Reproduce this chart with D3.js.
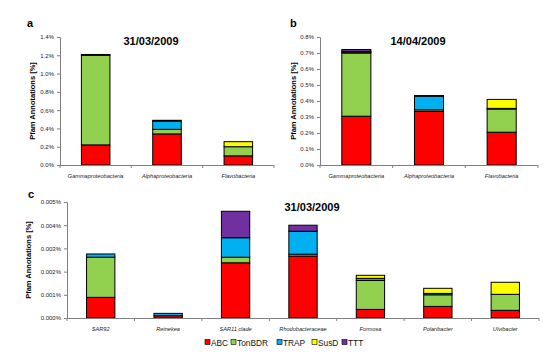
<!DOCTYPE html>
<html><head><meta charset="utf-8">
<script src="https://cdn.jsdelivr.net/npm/d3@7"></script>
<style>body{margin:0;background:#fff}svg{display:block}text{font-family:"Liberation Sans",Arial,sans-serif}</style>
</head><body>
<script>
const series = ["ABC","TonBDR","TRAP","SusD","TTT"];
const seriesColors = ["#ff0000","#92d050","#00b0f0","#ffff00","#7030a0"];

const catsTop = ["Gammaproteobacteria","Alphaproteobacteria","Flavobacteria"];
const aABC = [0.22,0.34,0.10];
const aTonBDR = [0.98,0.05,0.10];
const aTRAP = [0.0,0.09,0.0];
const aSusD = [0.0,0.0,0.055];
const aTTT = [0.009,0.009,0.0];
const aTicks = [0,0.2,0.4,0.6,0.8,1.0,1.2,1.4];

const bABC = [0.305,0.335,0.205];
const bTonBDR = [0.395,0.01,0.145];
const bTRAP = [0.005,0.085,0.004];
const bSusD = [0.005,0.0,0.056];
const bTTT = [0.012,0.004,0.0];
const bTicks = [0,0.1,0.2,0.3,0.4,0.5,0.6,0.7,0.8];

const catsC = ["SAR92","Reinekea","SAR11 clade","Rhodobacteraceae","Formosa","Polaribacter","Ulvibacter"];
const cABC = [0.00089,0.0001,0.00238,0.00267,0.00037,0.0005,0.00033];
const cTonBDR = [0.00173,0.0,0.00024,0.00008,0.00125,0.0005,0.00069];
const cTRAP = [0.00014,0.0001,0.00084,0.00099,0.00009,0.00006,0.0];
const cSusD = [0.0,0.0,0.0,0.0,0.00013,0.00022,0.00052];
const cTTT = [0.0,0.0,0.00114,0.00026,0.0,0.0,0.0];
const cTicks = [0,0.001,0.002,0.003,0.004,0.005];

const svg = d3.select("body").append("svg").attr("width",560).attr("height",355);

function panel(o){
  const g = svg.append("g");
  const x = d3.scaleBand().domain(o.cats).range([o.x0,o.x1]).paddingInner(o.pad).paddingOuter(o.pad/2);
  const y = d3.scaleLinear().domain([0,o.max]).range([o.y0,o.y1]);
  const rows = o.cats.map((c,i)=>{const r={cat:c}; series.forEach((s,k)=>r[s]=o.vals[k][i]); return r;});
  const stack = d3.stack().keys(series)(rows);
  stack.forEach((layer,k)=>{
    g.selectAll(null).data(layer.filter(d=>d[1]-d[0]>0)).enter().append("rect")
      .attr("x",d=>x(d.data.cat)).attr("width",x.bandwidth())
      .attr("y",d=>y(d[1])).attr("height",d=>y(d[0])-y(d[1]))
      .attr("fill",seriesColors[k]).attr("stroke","#000").attr("stroke-width",1);
  });
  const ya = g.append("g").attr("transform",`translate(${o.x0},0)`)
    .call(d3.axisLeft(y).tickValues(o.ticks).tickFormat(d=>d3.format(o.fmt)(d)+"%").tickSize(3).tickPadding(3));
  ya.selectAll("path,line").attr("stroke","#808080");
  ya.selectAll("text").attr("font-size",6).attr("fill","#222");
  g.append("line").attr("x1",o.x0).attr("x2",o.x1).attr("y1",o.y0+0.5).attr("y2",o.y0+0.5).attr("stroke","#808080");
  d3.range(o.cats.length+1).forEach(i=>{
    const xx = o.x0 + (o.x1-o.x0)*i/o.cats.length;
    g.append("line").attr("x1",xx).attr("x2",xx).attr("y1",o.y0).attr("y2",o.y0+3).attr("stroke","#808080");
  });
  g.selectAll(null).data(o.cats).enter().append("text")
    .attr("x",d=>x(d)+x.bandwidth()/2).attr("y",o.y0+13).attr("text-anchor","middle")
    .attr("font-size",5.6).attr("font-style","italic").attr("fill","#222").text(d=>d);
  g.append("text").attr("transform",`translate(${o.tx},${(o.y0+o.y1)/2}) rotate(-90)`)
    .attr("text-anchor","middle").attr("font-size",7.5).attr("font-weight","bold").text("Pfam Annotations [%]");
  g.append("text").attr("x",o.titleX).attr("y",o.titleY).attr("text-anchor","middle")
    .attr("font-size",11).attr("font-weight","bold").text(o.title);
  g.append("text").attr("x",o.lx).attr("y",o.ly).attr("font-size",11).attr("font-weight","bold").text(o.letter);
}

panel({cats:catsTop,vals:[aABC,aTonBDR,aTRAP,aSusD,aTTT],max:1.4,ticks:aTicks,fmt:".1f",
  x0:60,x1:274,y0:165,y1:37,pad:0.6,tx:35,title:"31/03/2009",titleX:151,titleY:45,letter:"a",lx:27,ly:27});
panel({cats:catsTop,vals:[bABC,bTonBDR,bTRAP,bSusD,bTTT],max:0.8,ticks:bTicks,fmt:".1f",
  x0:320,x1:538,y0:165,y1:37,pad:0.6,tx:296,title:"14/04/2009",titleX:418,titleY:45,letter:"b",lx:290,ly:27});
panel({cats:catsC,vals:[cABC,cTonBDR,cTRAP,cSusD,cTTT],max:0.005,ticks:cTicks,fmt:".3f",
  x0:67,x1:539,y0:318,y1:202,pad:0.58,tx:31,title:"31/03/2009",titleX:312,titleY:211,letter:"c",lx:28,ly:198});

const lg = svg.append("g");
const lx = [205,231,277,312,342];
series.forEach((s,k)=>{
  lg.append("rect").attr("x",lx[k]).attr("y",339.5).attr("width",5).attr("height",5)
    .attr("fill",seriesColors[k]).attr("stroke","#000").attr("stroke-width",0.6);
  lg.append("text").attr("x",lx[k]+6).attr("y",345.5).attr("font-size",8.3).attr("fill","#111").text(s);
});
</script>
</body></html>
